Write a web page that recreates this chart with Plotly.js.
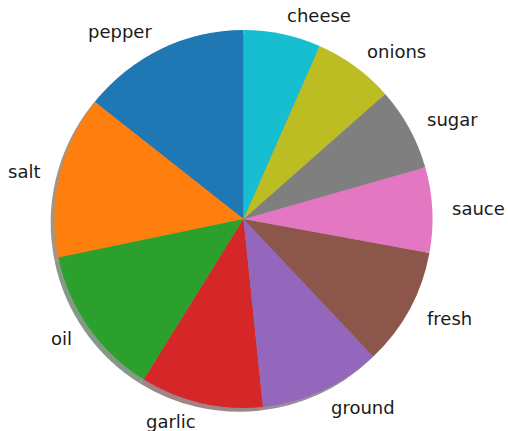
<!DOCTYPE html>
<html>
<head>
<meta charset="utf-8">
<script src="https://cdn.plot.ly/plotly-3.0.1.min.js"></script>
<style>html,body{margin:0;padding:0;background:#fff}#chart{width:508px;height:431px}</style>
</head>
<body>
<div id="chart"></div>
<script>
const labels = ["pepper", "salt", "oil", "garlic", "ground", "fresh", "sauce", "sugar", "onions", "cheese"];
const values = [144, 139, 129, 105, 104, 101, 73, 71, 69, 66];
const colors = ["#1f77b4", "#ff7f0e", "#2ca02c", "#d62728", "#9467bd", "#8c564b", "#e377c2", "#7f7f7f", "#bcbd22", "#17becf"];

const W = 508, H = 431;
const cx = 243.5, cy = 219, R = 189;
const sh = 3.8; // shadow offset in px

const total = values.reduce((a, b) => a + b, 0);
// Plotly's counterclockwise pie ends its first slice at 12 o'clock; shift so it starts there (matplotlib startangle=90)
const rot = -values[0] / total * 360;

function dom(ox, oy) {
  return {
    x: [(cx + ox - R) / W, (cx + ox + R) / W],
    y: [(H - (cy + oy) - R) / H, (H - (cy + oy) + R) / H]
  };
}

function shadowColor(hex) {
  const r = parseInt(hex.slice(1, 3), 16), g = parseInt(hex.slice(3, 5), 16), b = parseInt(hex.slice(5, 7), 16);
  const f = c => Math.round(0.5 * c * 0.3 + 0.5 * 255);
  return `rgb(${f(r)},${f(g)},${f(b)})`;
}

const shadow = {
  type: "pie", labels: labels.map(l => l + " "), values: values, sort: false,
  direction: "counterclockwise", rotation: rot,
  marker: { colors: colors.map(shadowColor), line: { width: 0 } },
  textinfo: "none", hoverinfo: "skip", showlegend: false,
  domain: dom(-sh, sh)
};
const pie = {
  type: "pie", labels: labels, values: values, sort: false,
  direction: "counterclockwise", rotation: rot,
  marker: { colors: colors, line: { width: 0 } },
  textinfo: "none", hoverinfo: "label+value", showlegend: false,
  domain: dom(0, 0)
};

// labels at 1.1 R, like matplotlib
const annotations = [];
let cum = 0;
values.forEach((v, i) => {
  const mid = 90 + (cum + v / 2) / total * 360;
  cum += v;
  const th = mid * Math.PI / 180;
  const px = cx + 1.1 * R * Math.cos(th);
  const py = cy - 1.1 * R * Math.sin(th);
  annotations.push({
    text: labels[i], xref: "paper", yref: "paper",
    x: px / W, y: (H - py) / H,
    xanchor: Math.cos(th) > 0 ? "left" : "right", yanchor: "middle",
    showarrow: false, borderpad: 0,
    font: { family: "DejaVu Sans", size: 18, color: "#1a1a1a" }
  });
});

const layout = {
  width: W, height: H,
  margin: { l: 0, r: 0, t: 0, b: 0 },
  paper_bgcolor: "#ffffff",
  annotations: annotations
};

Plotly.newPlot("chart", [shadow, pie], layout, { displayModeBar: false, staticPlot: true });
</script>
</body>
</html>
